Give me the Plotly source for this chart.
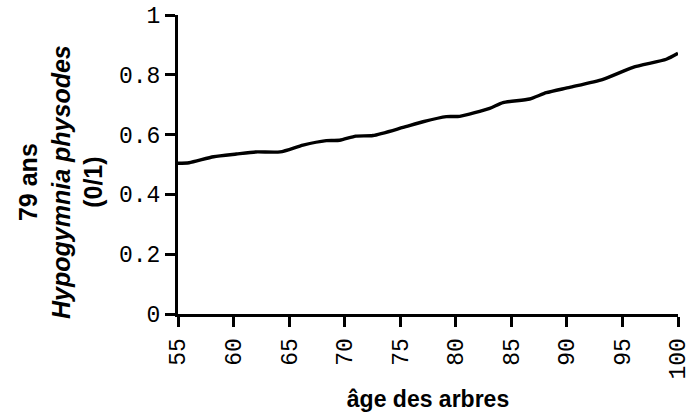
import plotly.graph_objects as go

# Data
age = [55, 56, 58.2, 60.25, 62, 64.2, 66.25, 68.35, 69.55, 71, 72.55, 75.25, 77.05,
       79.15, 80.35, 83.05, 84.25, 86.65, 88.15, 90.25, 93.25, 95.95, 98.95, 100]
prob = [0.504, 0.506, 0.526, 0.535, 0.542, 0.542, 0.565, 0.580, 0.581, 0.595, 0.597,
        0.624, 0.643, 0.660, 0.661, 0.688, 0.707, 0.719, 0.740, 0.758, 0.785, 0.825,
        0.852, 0.872]

x_ticks = [55, 60, 65, 70, 75, 80, 85, 90, 95, 100]
x_ticktext = ["55", "60", "65", "70", "75", "80", "85", "90", "95", "100"]
y_ticks = [0, 0.2, 0.4, 0.6, 0.8, 1]
y_ticktext = ["0", "0.2", "0.4", "0.6", "0.8", "1"]

fig = go.Figure()
fig.add_trace(go.Scatter(x=age, y=prob, mode="lines",
                         line=dict(color="black", width=3.4, shape="spline", smoothing=0.6),
                         showlegend=False, hoverinfo="skip"))

mono = dict(family="Liberation Mono, Courier New, monospace", size=23, color="black")

fig.update_layout(
    width=697, height=416,
    margin=dict(l=178, r=19, t=15, b=102, autoexpand=False),
    paper_bgcolor="white", plot_bgcolor="white",
    xaxis=dict(range=[55, 100], tickvals=x_ticks, ticktext=x_ticktext, tickangle=-90,
               ticks="outside", ticklen=10, tickwidth=3, tickcolor="black",
               showline=True, linecolor="black", linewidth=3, showgrid=False,
               zeroline=False, tickfont=mono, ticklabelstandoff=2, automargin=False,
               title=dict(text="<b>âge des arbres</b>",
                          font=dict(family="Liberation Sans, Arial, sans-serif", size=23, color="black"),
                          standoff=13)),
    yaxis=dict(range=[0, 1], tickvals=y_ticks, ticktext=y_ticktext,
               ticks="outside", ticklen=10, tickwidth=3, tickcolor="black",
               showline=True, linecolor="black", linewidth=3, showgrid=False,
               zeroline=False, tickfont=mono, ticklabelstandoff=0, automargin=False),
    annotations=[dict(
        text="<b>79 ans</b><br><b><i>Hypogymnia physodes</i></b><br><b>(0/1)</b>",
        xref="paper", yref="paper", x=-0.235, y=0.44, xanchor="center", yanchor="middle",
        textangle=-90, showarrow=False, align="center",
        font=dict(family="Liberation Sans, Arial, sans-serif", size=25, color="black"))],
)

fig.write_html("out.html", config={"displayModeBar": False},
               post_script="document.body.style.margin='0';document.body.style.padding='0';")
